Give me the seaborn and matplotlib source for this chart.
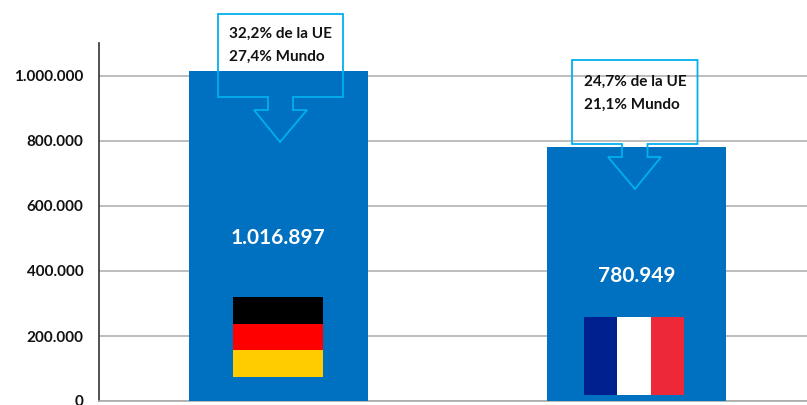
import matplotlib
matplotlib.use("Agg")
import matplotlib.pyplot as plt
from matplotlib.patches import Polygon, Rectangle
from matplotlib.transforms import Affine2D
from matplotlib.ticker import FuncFormatter
import seaborn as sns
import pandas as pd

countries = ["Alemania", "Francia"]
values = [1016897, 780949]
value_labels = ["1.016.897", "780.949"]
share_labels = ["32,2% de la UE\n27,4% Mundo", "24,7% de la UE\n21,1% Mundo"]
yticks = [0, 200000, 400000, 600000, 800000, 1000000]
germany_colors = ["#000000", "#FF0000", "#FFCC00"]
france_colors = ["#00208F", "#FFFFFF", "#ED2939"]

BAR = "#0070C0"
CALLOUT = "#00B0F0"
GRID = "#ABABAB"
FONT = "Lato"

sns.set_theme(style="white")
plt.rcParams["font.family"] = [FONT, "DejaVu Sans"]

W, H = 807, 405
fig = plt.figure(figsize=(W / 100, H / 100), dpi=100, facecolor="white")
ax = fig.add_axes([99 / W, (H - 401) / H, 717 / W, 358 / H])
px = Affine2D().scale(1, -1).translate(0, H)  # reference pixel space

df = pd.DataFrame({"pais": countries, "valor": values})
sns.barplot(data=df, x="pais", y="valor", color=BAR, saturation=1, width=0.5, ax=ax,
            zorder=3, linewidth=0, edgecolor="none")

ax.set_xlim(-0.5, 1.5)
ax.set_ylim(0, 358 / 325 * 1e6)
ax.set_yticks(yticks)
ax.yaxis.set_major_formatter(FuncFormatter(lambda v, _: f"{int(v):,}".replace(",", ".")))
ax.set_xlabel("")
ax.set_ylabel("")
ax.set_xticks([])
ax.yaxis.grid(True, color=GRID, lw=1.1, zorder=0)
ax.set_axisbelow(True)
ax.tick_params(axis="y", length=0, pad=11, labelsize=11)
for t in ax.get_yticklabels():
    t.set_fontweight("bold")
    t.set_color("#111111")
for s in ["top", "right"]:
    ax.spines[s].set_visible(False)
ax.spines["left"].set_color("#333333")
ax.spines["left"].set_linewidth(1.2)
ax.spines["bottom"].set_color(GRID)
ax.spines["bottom"].set_linewidth(1.2)

# value labels inside the bars
for i, lab in enumerate(value_labels):
    y = [238, 276][i]
    ax.text(i, (401 - y) / 325 * 1e6, lab, color="white", fontsize=15, fontweight="bold",
            ha="center", va="center", zorder=5)

# callouts
def callout(x0, x1, y0, y1, sx0, sx1, neck, wx0, wx1, tipx, tipy):
    pts = [(x0, y0), (x1, y0), (x1, y1), (sx1, y1), (sx1, neck), (wx1, neck),
           (tipx, tipy), (wx0, neck), (sx0, neck), (sx0, y1), (x0, y1)]
    fig.add_artist(Polygon(pts, closed=True, fill=False, edgecolor=CALLOUT, lw=1.3,
                           transform=px, zorder=6))

callout(218, 343, 14, 97, 268, 293, 110, 254, 307, 280, 142)
callout(572, 697.5, 60, 144, 622, 647.5, 157, 608, 661, 635, 189)

for (x, y, s) in [(229, 45.5, share_labels[0]), (584, 93, share_labels[1])]:
    fig.text(x / W, 1 - y / H, s, fontsize=11, fontweight="bold", color="#111111",
             ha="left", va="center", linespacing=1.8, zorder=7)

# flags
def rect(x0, y0, x1, y1, c):
    fig.add_artist(Rectangle((x0, y0), x1 - x0, y1 - y0, facecolor=c, edgecolor="none",
                             transform=px, zorder=5))

for i, c in enumerate(germany_colors):
    rect(232.5, 297 + i * 26.67, 323, 297 + (i + 1) * 26.67, c)
for i, c in enumerate(france_colors):
    rect(583.7 + i * 33.5, 316.7, 583.7 + (i + 1) * 33.5, 395, c)

fig.savefig("out.png", dpi=100)
